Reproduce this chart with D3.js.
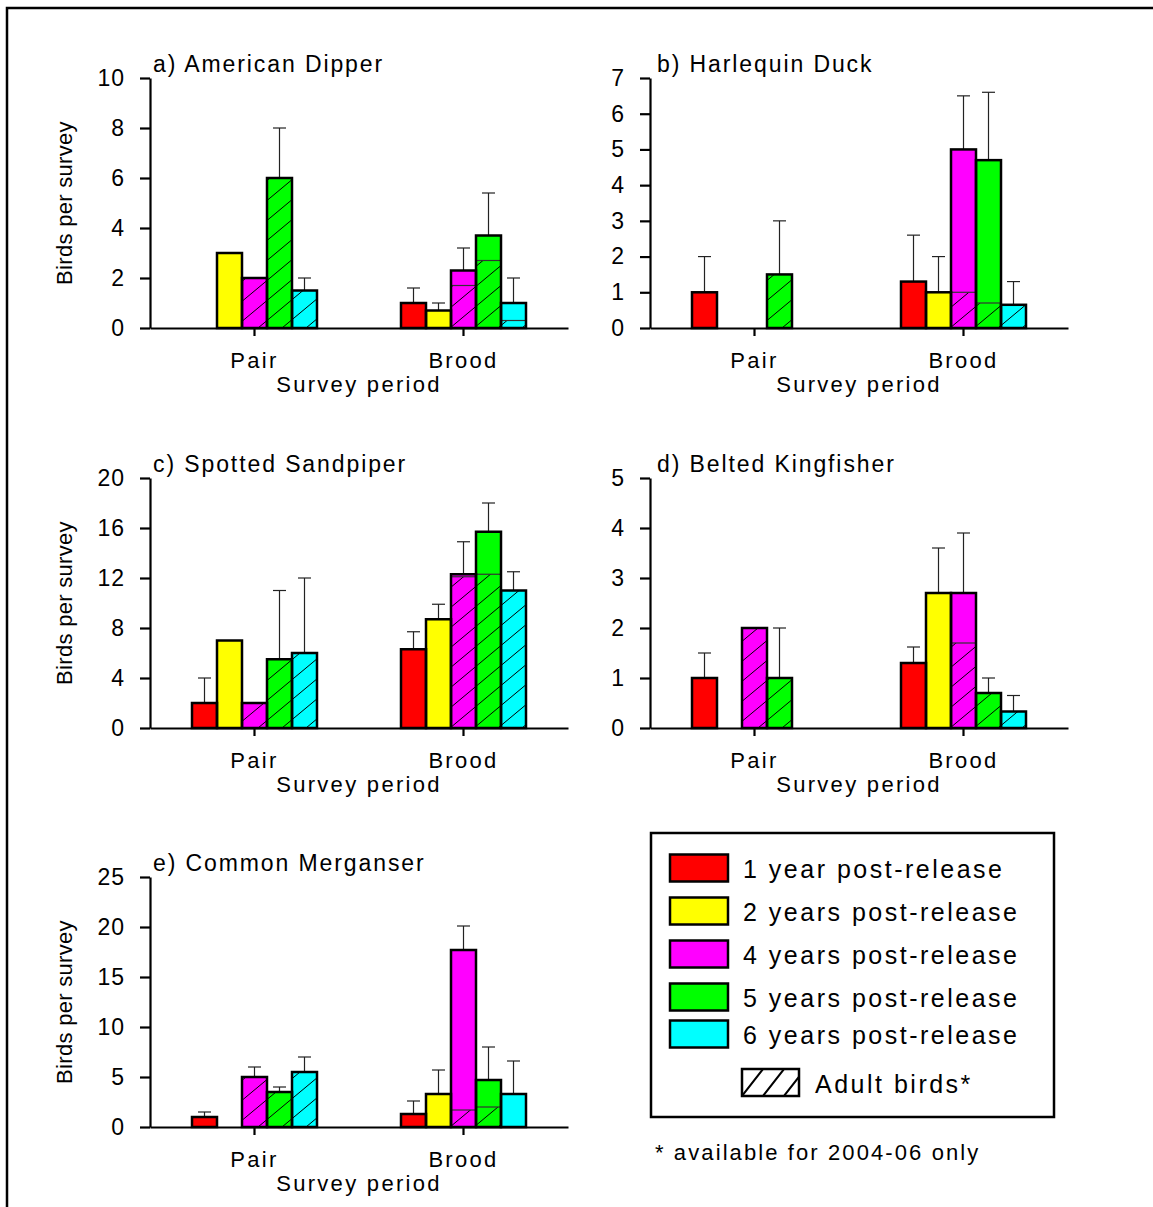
<!DOCTYPE html>
<html>
<head>
<meta charset="utf-8">
<script src="https://cdn.jsdelivr.net/npm/d3@7"></script>
<style>
body { margin: 0; background: #fff; }
svg { display: block; font-family: "Liberation Sans", Arial, sans-serif; }
</style>
</head>
<body>
<svg width="1153" height="1207"></svg>
<script>
var species = ["a) American Dipper", "b) Harlequin Duck", "c) Spotted Sandpiper", "d) Belted Kingfisher", "e) Common Merganser"];
var periods = ["Pair", "Brood"];
var seriesNames = ["1 year post-release", "2 years post-release", "4 years post-release", "5 years post-release", "6 years post-release"];
var seriesColors = ["#ff0000", "#ffff00", "#ff00ff", "#00ff00", "#00ffff"];
var yMax = [10, 7, 20, 5, 25];
var yStep = [2, 1, 4, 1, 5];

// [pair, brood] x 5 release years; null = no bar / no error bar
var dipperMean = [[null, 3, 2, 6, 1.5], [1, 0.7, 2.3, 3.7, 1]];
var dipperUpper = [[null, null, null, 8, 2], [1.6, 1.0, 3.2, 5.4, 2.0]];
var dipperAdult = [[0, 0, 2, 6, 1.5], [0, 0, 1.7, 2.7, 0.3]];

var harlequinMean = [[1, null, null, 1.5, null], [1.3, 1.0, 5.0, 4.7, 0.65]];
var harlequinUpper = [[2, null, null, 3, null], [2.6, 2.0, 6.5, 6.6, 1.3]];
var harlequinAdult = [[0, 0, 0, 1.5, 0], [0, 0, 1.0, 0.7, 0.65]];

var sandpiperMean = [[2, 7, 2, 5.5, 6], [6.3, 8.7, 12.3, 15.7, 11]];
var sandpiperUpper = [[4, null, null, 11, 12], [7.7, 9.9, 14.9, 18, 12.5]];
var sandpiperAdult = [[0, 0, 2, 5.5, 6], [0, 0, 12.1, 12.3, 11]];

var kingfisherMean = [[1, null, 2, 1, null], [1.3, 2.7, 2.7, 0.7, 0.33]];
var kingfisherUpper = [[1.5, null, null, 2, null], [1.62, 3.6, 3.9, 1.0, 0.65]];
var kingfisherAdult = [[0, 0, 2, 1, 0], [0, 0, 1.7, 0.7, 0.33]];

var merganserMean = [[1.0, null, 5, 3.5, 5.5], [1.3, 3.3, 17.7, 4.7, 3.3]];
var merganserUpper = [[1.5, null, 6, 4, 7], [2.6, 5.7, 20.1, 8, 6.6]];
var merganserAdult = [[0, 0, 5, 3.5, 5.5], [0, 0, 1.7, 2.0, 0]];

var means = [dipperMean, harlequinMean, sandpiperMean, kingfisherMean, merganserMean];
var uppers = [dipperUpper, harlequinUpper, sandpiperUpper, kingfisherUpper, merganserUpper];
var adults = [dipperAdult, harlequinAdult, sandpiperAdult, kingfisherAdult, merganserAdult];

var svg = d3.select('svg');

svg.append("rect").attr("width", 1153).attr("height", 1207).attr("fill", "white");
svg.append("path")
    .attr("d", "M7,1210V8H1160")
    .attr("fill", "none")
    .attr("stroke", "black")
    .attr("stroke-width", 2.5);

var defs = svg.append("defs");
var pat = defs.append("pattern")
    .attr("id", "hatch")
    .attr("patternUnits", "userSpaceOnUse")
    .attr("width", 24)
    .attr("height", 20);
pat.append("path")
    .attr("d", "M0,20L24,0M-6,5L6,-5M18,25L30,15")
    .attr("stroke", "black")
    .attr("stroke-width", 1);

var patLegend = defs.append("pattern")
    .attr("id", "hatchLegend")
    .attr("patternUnits", "userSpaceOnUse")
    .attr("x", 742).attr("y", 1069)
    .attr("width", 21)
    .attr("height", 27);
patLegend.append("path")
    .attr("d", "M0,27L21,0M-10.5,13.5L0,0M21,27L31.5,13.5")
    .attr("stroke", "black")
    .attr("stroke-width", 2);

var panelX = [150, 650, 150, 650, 150];
var panelY = [78, 78, 478, 478, 877];
var w = 418, h = 250;

species.forEach(function (name, i) {
    var g = svg.append("g").attr("transform", "translate(" + panelX[i] + "," + panelY[i] + ")");
    var y = d3.scaleLinear().domain([0, yMax[i]]).range([h, 0]);
    var x0 = d3.scaleBand().domain(periods).range([0, w]);
    var x1 = d3.scaleBand().domain(seriesNames).range([-62.5, 62.5]);

    var rows = [];
    periods.forEach(function (p, pi) {
        seriesNames.forEach(function (s, si) {
            if (means[i][pi][si] == null) return;
            rows.push({
                period: p, series: s, color: seriesColors[si],
                mean: means[i][pi][si], upper: uppers[i][pi][si], adult: adults[i][pi][si]
            });
        });
    });
    function bx(d) { return x0(d.period) + x0.bandwidth() / 2 + x1(d.series); }
    function cx(d) { return bx(d) + x1.bandwidth() / 2; }

    // error bars
    var eb = g.selectAll(".err")
        .data(rows.filter(function (d) { return d.upper != null; }))
        .enter().append("g");
    eb.append("line")
        .attr("x1", cx).attr("x2", cx)
        .attr("y1", function (d) { return y(d.mean); })
        .attr("y2", function (d) { return y(d.upper); })
        .attr("stroke", "#222").attr("stroke-width", 1.2);
    eb.append("line")
        .attr("x1", function (d) { return cx(d) - 6.5; })
        .attr("x2", function (d) { return cx(d) + 6.5; })
        .attr("y1", function (d) { return y(d.upper); })
        .attr("y2", function (d) { return y(d.upper); })
        .attr("stroke", "#222").attr("stroke-width", 1.2);

    g.selectAll(".bar")
        .data(rows)
        .enter()
        .append("rect")
        .attr("x", bx)
        .attr("y", function (d) { return y(d.mean); })
        .attr("width", x1.bandwidth())
        .attr("height", function (d) { return h - y(d.mean); })
        .attr("fill", function (d) { return d.color; });

    g.selectAll(".adult")
        .data(rows.filter(function (d) { return d.adult > 0; }))
        .enter()
        .append("rect")
        .attr("x", bx)
        .attr("y", function (d) { return y(d.adult); })
        .attr("width", x1.bandwidth())
        .attr("height", function (d) { return h - y(d.adult); })
        .attr("fill", "url(#hatch)");

    g.selectAll(".split")
        .data(rows.filter(function (d) { return d.adult > 0 && d.adult < d.mean; }))
        .enter()
        .append("line")
        .attr("x1", bx)
        .attr("x2", function (d) { return bx(d) + x1.bandwidth(); })
        .attr("y1", function (d) { return y(d.adult); })
        .attr("y2", function (d) { return y(d.adult); })
        .attr("stroke", "#333")
        .attr("stroke-width", 1.2);

    g.selectAll(".outline")
        .data(rows)
        .enter()
        .append("rect")
        .attr("x", bx)
        .attr("y", function (d) { return y(d.mean); })
        .attr("width", x1.bandwidth())
        .attr("height", function (d) { return h - y(d.mean); })
        .attr("fill", "none")
        .attr("stroke", "black")
        .attr("stroke-width", 2.5);

    var yAxis = g.append("g")
        .call(d3.axisLeft(y)
            .tickValues(d3.range(0, yMax[i] + yStep[i] / 2, yStep[i]))
            .tickFormat(d3.format("d"))
            .tickSize(10).tickSizeOuter(0).tickPadding(15));
    yAxis.selectAll("path, line").attr("stroke", "black").attr("stroke-width", 2.2);
    yAxis.selectAll("text")
        .attr("font-size", 23).attr("letter-spacing", 1).attr("fill", "black")
        .attr("font-family", "Liberation Sans, Arial, sans-serif");

    var xAxis = g.append("g")
        .attr("transform", "translate(0," + h + ")")
        .call(d3.axisBottom(x0).tickSize(8).tickSizeOuter(0).tickPadding(16));
    xAxis.selectAll("path, line").attr("stroke", "black").attr("stroke-width", 2.2);
    xAxis.selectAll("text")
        .attr("font-size", 22).attr("letter-spacing", 2.3).attr("fill", "black")
        .attr("font-family", "Liberation Sans, Arial, sans-serif");

    g.append("text")
        .attr("x", w / 2)
        .attr("y", h + 64)
        .attr("text-anchor", "middle")
        .attr("font-size", 22)
        .attr("letter-spacing", 2.3)
        .text("Survey period");

    g.append("text")
        .attr("x", i % 2 ? 7 : 3)
        .attr("y", -6)
        .attr("font-size", 23)
        .attr("letter-spacing", 1.9)
        .text(name);

    if (i % 2 == 0) {
        g.append("text")
            .attr("transform", "translate(-78," + (h / 2) + ") rotate(-90)")
            .attr("text-anchor", "middle")
            .attr("font-size", 22)
            .attr("letter-spacing", 0.3)
            .text("Birds per survey");
    }
});

// legend
var legendRowY = [868, 911, 954, 997, 1034];
var lg = svg.append("g");
lg.append("rect")
    .attr("x", 651).attr("y", 833)
    .attr("width", 403).attr("height", 284)
    .attr("fill", "white").attr("stroke", "black").attr("stroke-width", 2.5);

lg.selectAll(".sw")
    .data(seriesNames)
    .enter()
    .append("rect")
    .attr("x", 670)
    .attr("y", function (d, k) { return legendRowY[k] - 13.5; })
    .attr("width", 58)
    .attr("height", 27)
    .attr("fill", function (d, k) { return seriesColors[k]; })
    .attr("stroke", "black")
    .attr("stroke-width", 2.5);

lg.selectAll(".lt")
    .data(seriesNames)
    .enter()
    .append("text")
    .attr("x", 743)
    .attr("y", function (d, k) { return legendRowY[k] + 10; })
    .attr("font-size", 25)
    .attr("letter-spacing", 2.5)
    .text(function (d) { return d; });

lg.append("rect")
    .attr("x", 742).attr("y", 1069)
    .attr("width", 57).attr("height", 27)
    .attr("fill", "url(#hatchLegend)")
    .attr("stroke", "black").attr("stroke-width", 2.5);
lg.append("text")
    .attr("x", 815).attr("y", 1093)
    .attr("font-size", 25)
    .attr("letter-spacing", 2.5)
    .text("Adult birds*");

svg.append("text")
    .attr("x", 655).attr("y", 1160)
    .attr("font-size", 22)
    .attr("letter-spacing", 2.1)
    .text("* available for 2004-06 only");
</script>
</body>
</html>
